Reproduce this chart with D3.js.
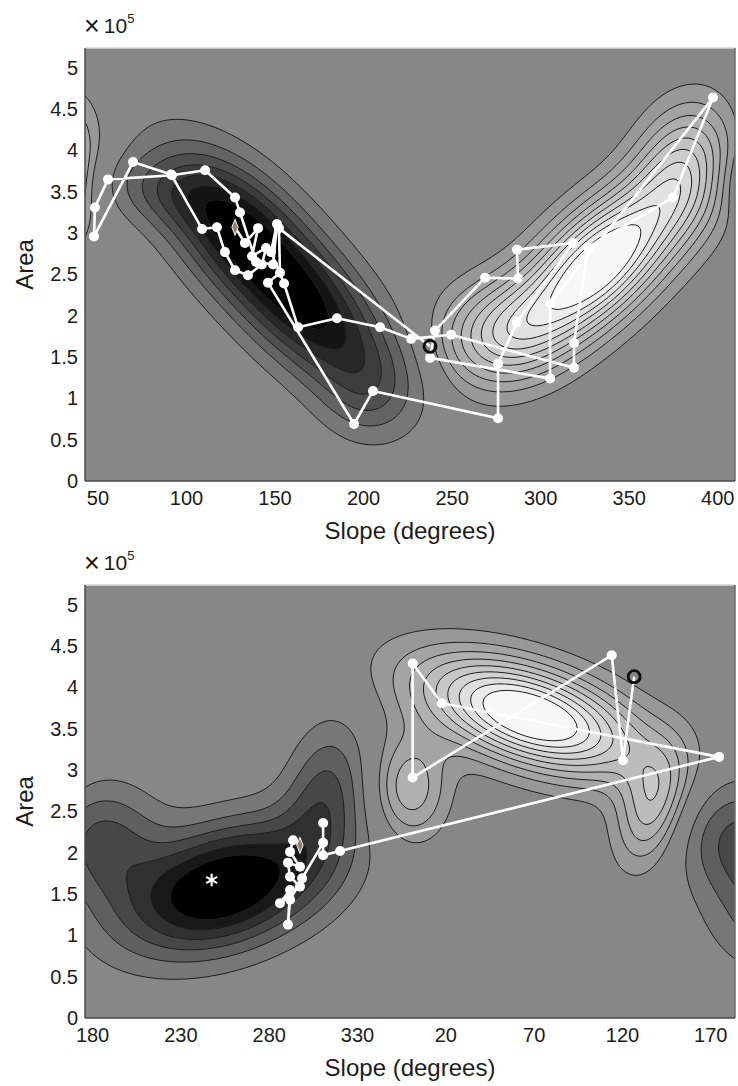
<!DOCTYPE html>
<html>
<head>
<meta charset="utf-8">
<script src="https://cdn.jsdelivr.net/npm/d3@7"></script>
<style>
  body { margin: 0; background: #ffffff; }
  svg text { font-family: "Liberation Sans", Arial, Helvetica, sans-serif; fill: #1c1c1c; }
</style>
</head>
<body>
<svg id="chart" width="738" height="1086"></svg>
<script>
// ---------------- shared axis values ----------------
const areaDomain = [0, 5.24];                       // ×10^5
const areaTicks = [0, 0.5, 1, 1.5, 2, 2.5, 3, 3.5, 4, 4.5, 5];

// ---------------- panel 1 ----------------
const topSlopeDomain = [43, 410];
const topSlopeTicks = [50, 100, 150, 200, 250, 300, 350, 400];
const topSlopeTickLabels = ["50", "100", "150", "200", "250", "300", "350", "400"];

// density components: [slope, area, sdSlope, sdArea, rho, weight]
const topComponents = [
  [128.5, 3.05, 31.0, 0.68, -0.56, -1.0],
  [173.5, 1.98, 31.0, 0.68, -0.56, -0.9],
  [84.0, 3.50, 27.0, 0.31, -0.30, -0.25],
  [203.0, 1.05, 19.0, 0.42, 0.0, -0.25],
  [333.0, 2.62, 32.0, 0.67, 0.63, 1.0],
  [381.0, 3.80, 19.0, 0.55, 0.20, 0.44],
  [276.0, 1.80, 25.0, 0.44, 0.13, 0.42]
];
const topDarkLevels = 7;
const topLightLevels = 10;

const topTrackSlope = [127.7, 133.3, 140.7, 137.3, 145.2, 142.9, 135.0, 127.7, 122.0, 117.5,
  109.1, 91.6, 70.1, 48.1, 48.6, 56.0, 92.1, 110.8, 127.7, 130.5,
  139.6, 149.2, 151.4, 148.0, 155.4, 163.3, 185.3, 209.6, 227.1, 249.7,
  319.1, 319.1, 327.0, 375.0, 397.6, 305.6, 305.6, 237.8, 240.6, 268.9,
  287.5, 286.9, 318.6, 286.9, 276.2, 276.2, 205.6, 194.9, 146.3, 153.1,
  152.5, 237.8];
const topTrackArea = [3.07, 2.88, 3.06, 2.72, 2.82, 2.62, 2.49, 2.55, 2.77, 3.07,
  3.05, 3.71, 3.86, 2.96, 3.31, 3.65, 3.70, 3.76, 3.43, 3.25,
  2.65, 2.62, 3.11, 2.77, 2.39, 1.86, 1.97, 1.86, 1.72, 1.77,
  1.37, 1.67, 2.83, 3.43, 4.64, 2.15, 1.24, 1.49, 1.82, 2.46,
  2.45, 2.80, 2.88, 1.92, 1.42, 0.76, 1.09, 0.69, 2.40, 2.52,
  3.06, 1.63];

// ---------------- panel 2 (slope unwrapped past 360) ----------------
const bottomSlopeDomain = [176, 544];
const bottomSlopeTicks = [180, 230, 280, 330, 380, 430, 480, 530];
const bottomSlopeTickLabels = ["180", "230", "280", "330", "20", "70", "120", "170"];

const bottomComponents = [
  [255.0, 1.58, 40.0, 0.55, 0.35, -1.0],
  [312.0, 2.72, 16.0, 0.60, 0.20, -0.4],
  [186.0, 2.15, 22.0, 0.50, 0.0, -0.42],
  [428.0, 3.66, 42.0, 0.48, -0.50, 1.0],
  [360.0, 2.78, 15.0, 0.45, 0.0, 0.35],
  [497.0, 2.55, 14.0, 0.50, 0.30, 0.4]
];
const bottomDarkLevels = 6;
const bottomLightLevels = 9;

const bottomTrackSlope = [297.7, 293.8, 292.1, 297.7, 290.9, 292.1, 297.7, 286.4, 292.1, 290.9,
  292.1, 298.9, 310.8, 310.8, 310.8, 320.4, 535.0, 378.0, 361.5, 361.5,
  474.2, 480.6, 486.9];
const bottomTrackArea = [2.09, 2.15, 2.01, 1.83, 1.88, 1.71, 1.59, 1.39, 1.55, 1.13,
  1.43, 1.69, 2.12, 2.36, 1.97, 2.02, 3.16, 3.81, 4.29, 2.91,
  4.39, 3.12, 4.13];
const bottomPeak = [247.7, 1.67];

// ---------------- drawing ----------------
const svg = d3.select("#chart");
const L = 85, R = 735;

function density(comps, s, a) {
  let v = 0;
  for (const [cx, cy, sx, sy, r, w] of comps) {
    const t = (a - cy) / sy;
    for (const shift of [-360, 0, 360]) {
      const u = (s - cx - shift) / sx;
      const q = (u * u - 2 * r * u * t + t * t) / (1 - r * r);
      v += w * Math.exp(-0.5 * q);
    }
  }
  return v;
}

function drawPanel(cfg, idx) {
  const x = d3.scaleLinear().domain(cfg.slopeDomain).range([L, R]);
  const y = d3.scaleLinear().domain(areaDomain).range([cfg.bottom, cfg.top]);
  const g = svg.append("g");

  const clipId = "clip" + idx;
  g.append("clipPath").attr("id", clipId)
    .append("rect").attr("x", L).attr("y", cfg.top)
    .attr("width", R - L).attr("height", cfg.bottom - cfg.top);

  const plot = g.append("g").attr("clip-path", `url(#${clipId})`);
  plot.append("rect").attr("x", L).attr("y", cfg.top)
    .attr("width", R - L).attr("height", cfg.bottom - cfg.top)
    .attr("fill", "#878787");

  // sample the density on a grid
  const cell = 2;
  const nx = Math.ceil((R - L) / cell) + 3;
  const ny = Math.ceil((cfg.bottom - cfg.top) / cell) + 3;
  const vals = new Float64Array(nx * ny);
  for (let j = 0; j < ny; j++) {
    const a = y.invert(cfg.top + (j - 0.5) * cell);
    for (let i = 0; i < nx; i++) {
      const s = x.invert(L + (i - 0.5) * cell);
      vals[j * nx + i] = density(cfg.components, s, a);
    }
  }
  const vmax = d3.max(vals), vmin = d3.min(vals);
  const neg = vals.map(v => -v);

  const path = d3.geoPath(d3.geoIdentity().scale(cell).translate([L - cell, cfg.top - cell]));

  const darkTh = d3.range(1, cfg.dark + 1).map(k => -vmin * k / (cfg.dark + 1.7));
  const lightTh = d3.range(1, cfg.light + 1).map(k => vmax * k / (cfg.light + 2));
  const darkColor = d3.scaleLinear().domain([1, cfg.dark]).range(["#777777", "#000000"]);
  const lightColor = d3.scaleLinear().domain([1, cfg.light]).range(["#989898", "#f7f7f7"]);

  const darkBands = d3.contours().size([nx, ny]).thresholds(darkTh)(neg);
  plot.append("g").selectAll("path").data(darkBands).join("path")
    .attr("d", path)
    .attr("fill", (d, i) => darkColor(i + 1))
    .attr("stroke", "#1e1e1e").attr("stroke-width", 1);

  const lightBands = d3.contours().size([nx, ny]).thresholds(lightTh)(vals);
  plot.append("g").selectAll("path").data(lightBands).join("path")
    .attr("d", path)
    .attr("fill", (d, i) => lightColor(i + 1))
    .attr("stroke", "#1e1e1e").attr("stroke-width", 1);

  // trajectory
  const pts = cfg.trackSlope.map((s, i) => [s, cfg.trackArea[i]]);
  const line = d3.line().x(d => x(d[0])).y(d => y(d[1]));
  plot.append("path").attr("d", line(pts))
    .attr("fill", "none").attr("stroke", "#ffffff")
    .attr("stroke-width", 2.6).attr("stroke-linejoin", "round");

  plot.append("g").selectAll("circle").data(pts.slice(1, -1)).join("circle")
    .attr("cx", d => x(d[0])).attr("cy", d => y(d[1])).attr("r", 5)
    .attr("fill", "#ffffff");

  if (cfg.peak) {
    plot.append("path")
      .attr("d", d3.symbol(d3.symbolAsterisk, 110)())
      .attr("transform", `translate(${x(cfg.peak[0])},${y(cfg.peak[1])})`)
      .attr("fill", "none").attr("stroke", "#ffffff").attr("stroke-width", 2.2);
  }

  const first = pts[0], last = pts[pts.length - 1];
  plot.append("path")
    .attr("d", d3.symbol(d3.symbolDiamond, 55)())
    .attr("transform", `translate(${x(first[0])},${y(first[1])}) scale(0.8,1.15)`)
    .attr("fill", "#8a817b").attr("stroke", "#ffffff").attr("stroke-width", 1);
  plot.append("circle")
    .attr("cx", x(last[0])).attr("cy", y(last[1])).attr("r", 6)
    .attr("fill", "none").attr("stroke", "#0d0d0d").attr("stroke-width", 2.8);

  // frame
  g.append("line").attr("x1", L).attr("x2", R).attr("y1", cfg.top).attr("y2", cfg.top)
    .attr("stroke", "#d6d6d6").attr("stroke-width", 1.5);
  g.append("line").attr("x1", R).attr("x2", R).attr("y1", cfg.top).attr("y2", cfg.bottom)
    .attr("stroke", "#6c6c6c").attr("stroke-width", 1.5);
  g.append("line").attr("x1", L).attr("x2", R).attr("y1", cfg.bottom).attr("y2", cfg.bottom)
    .attr("stroke", "#4a4a4a").attr("stroke-width", 1.5);
  g.append("line").attr("x1", L).attr("x2", L).attr("y1", cfg.top).attr("y2", cfg.bottom)
    .attr("stroke", "#4a4a4a").attr("stroke-width", 1.5);

  // axes
  const yAxis = d3.axisLeft(y).tickValues(areaTicks).tickSize(0).tickPadding(7)
    .tickFormat(d3.format("~g"));
  const ya = g.append("g").attr("transform", `translate(${L},0)`).call(yAxis);
  ya.select(".domain").remove();
  ya.selectAll("text").attr("font-size", 20).style("font-family", null).attr("fill", "#1c1c1c");

  const labelMap = new Map(cfg.ticks.map((t, i) => [t, cfg.tickLabels[i]]));
  const xAxis = d3.axisBottom(x).tickValues(cfg.ticks).tickSize(0).tickPadding(10)
    .tickFormat(d => labelMap.get(d));
  const xa = g.append("g").attr("transform", `translate(0,${cfg.bottom})`).call(xAxis);
  xa.select(".domain").remove();
  xa.selectAll("text").attr("font-size", 20).style("font-family", null).attr("fill", "#1c1c1c");

  // titles
  g.append("text")
    .attr("transform", `translate(33,${(cfg.top + cfg.bottom) / 2}) rotate(-90)`)
    .attr("text-anchor", "middle").attr("font-size", 24).text("Area");
  g.append("text")
    .attr("x", (L + R) / 2).attr("y", cfg.bottom + 58)
    .attr("text-anchor", "middle").attr("font-size", 24).text("Slope (degrees)");

  const mult = g.append("text").attr("x", 84).attr("y", cfg.top - 15).attr("font-size", 21);
  mult.append("tspan").attr("font-size", 27).attr("dy", 2).text("\u00D7");
  mult.append("tspan").attr("dx", 4).attr("dy", -2).text("10");
  mult.append("tspan").attr("font-size", 13).attr("dy", -10).text("5");
}

drawPanel({
  top: 48, bottom: 481,
  slopeDomain: topSlopeDomain, ticks: topSlopeTicks, tickLabels: topSlopeTickLabels,
  components: topComponents, dark: topDarkLevels, light: topLightLevels,
  trackSlope: topTrackSlope, trackArea: topTrackArea
}, 0);

drawPanel({
  top: 585, bottom: 1018,
  slopeDomain: bottomSlopeDomain, ticks: bottomSlopeTicks, tickLabels: bottomSlopeTickLabels,
  components: bottomComponents, dark: bottomDarkLevels, light: bottomLightLevels,
  trackSlope: bottomTrackSlope, trackArea: bottomTrackArea, peak: bottomPeak
}, 1);
</script>
</body>
</html>
